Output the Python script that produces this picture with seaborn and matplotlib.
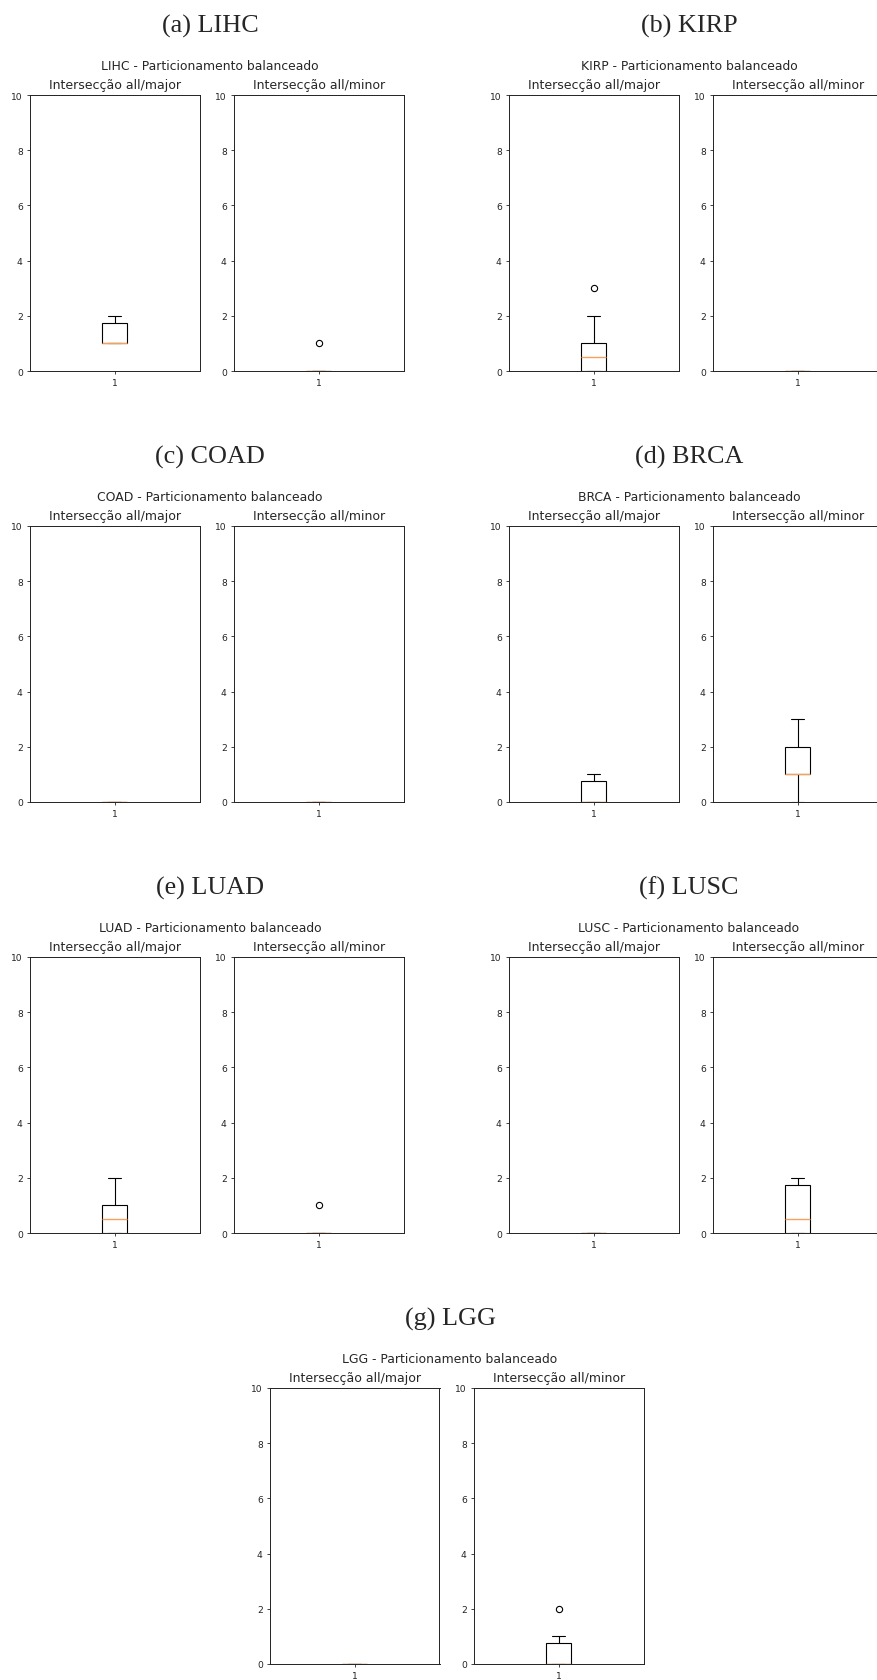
import numpy as np
import pandas as pd
import matplotlib
matplotlib.use("Agg")
import matplotlib.pyplot as plt
import seaborn as sns

# datasets and sub-figure letters
cancers = ["LIHC", "KIRP", "COAD", "BRCA", "LUAD", "LUSC", "LGG"]
letters = ["a", "b", "c", "d", "e", "f", "g"]
subtitles = ["Intersecção all/major", "Intersecção all/minor"]

# intersection sizes per run
lihc_major = [1, 1, 1, 1, 1, 1, 1, 2, 2, 2]
lihc_minor = [0, 0, 0, 0, 0, 0, 0, 0, 0, 1]
kirp_major = [0, 0, 0, 0, 0, 1, 1, 1, 2, 3]
kirp_minor = [0, 0, 0, 0, 0, 0, 0, 0, 0, 0]
coad_major = [0, 0, 0, 0, 0, 0, 0, 0, 0, 0]
coad_minor = [0, 0, 0, 0, 0, 0, 0, 0, 0, 0]
brca_major = [0, 0, 0, 0, 0, 0, 0, 1, 1, 1]
brca_minor = [0, 1, 1, 1, 1, 1, 2, 2, 2, 3]
luad_major = [0, 0, 0, 0, 0, 1, 1, 1, 2, 2]
luad_minor = [0, 0, 0, 0, 0, 0, 0, 0, 0, 1]
lusc_major = [0, 0, 0, 0, 0, 0, 0, 0, 0, 0]
lusc_minor = [0, 0, 0, 0, 0, 1, 1, 2, 2, 2]
lgg_major = [0, 0, 0, 0, 0, 0, 0, 0, 0, 0]
lgg_minor = [0, 0, 0, 0, 0, 0, 0, 1, 1, 2]

majors = [lihc_major, kirp_major, coad_major, brca_major, luad_major, lusc_major, lgg_major]
minors = [lihc_minor, kirp_minor, coad_minor, brca_minor, luad_minor, lusc_minor, lgg_minor]

sns.set_style("ticks")
plt.rcParams['font.family'] = ['DejaVu Sans']

W, H = 877, 1681
fig = plt.figure(figsize=(W / 100, H / 100), dpi=100)

# panel origins (x) and axes top (y), pixels
panel_x = [0, 479, 0, 479, 0, 479, 240]
row_top = [96, 96, 527, 527, 958, 958, 1389]
ax_w, ax_h = 169.5, 276
orange = "#f6a15c"


def add_ax(left, top):
    return fig.add_axes([left / W, 1 - (top + ax_h) / H, ax_w / W, ax_h / H])


for i, name in enumerate(cancers):
    px = panel_x[i]
    top = row_top[i]
    fig.text((px + 210) / W, 1 - (top - 63.5) / H, "(%s) %s" % (letters[i], name),
             ha="center", va="baseline", fontsize=18.8, family="Liberation Serif")
    fig.text((px + 210) / W, 1 - (top - 26) / H, name + " - Particionamento balanceado",
             ha="center", va="baseline", fontsize=8.9)
    for j, vals in enumerate([majors[i], minors[i]]):
        ax = add_ax(px + 30 + j * 204, top)
        df = pd.DataFrame({"g": ["1"] * len(vals), "v": vals})
        sns.boxplot(data=df, x="g", y="v", ax=ax, width=0.15, color="white",
                    linecolor="black", linewidth=0.8, whis=1.5,
                    medianprops={"color": orange, "linewidth": 1.0},
                    flierprops={"marker": "o", "markerfacecolor": "none",
                                "markeredgecolor": "black", "markersize": 4.5,
                                "markeredgewidth": 0.8})
        ax.set_ylim(0, 10)
        ax.set_yticks([0, 2, 4, 6, 8, 10])
        ax.set_xlim(-0.5, 0.5)
        ax.set(xlabel="", ylabel="")
        ax.set_title(subtitles[j], fontsize=9.0, pad=5)
        ax.tick_params(labelsize=6.6, length=2.2, width=0.6, pad=3, colors="#222222")
        for s in ax.spines.values():
            s.set_linewidth(0.7)
            s.set_color("#222222")

plt.savefig("out.png", dpi=100)
